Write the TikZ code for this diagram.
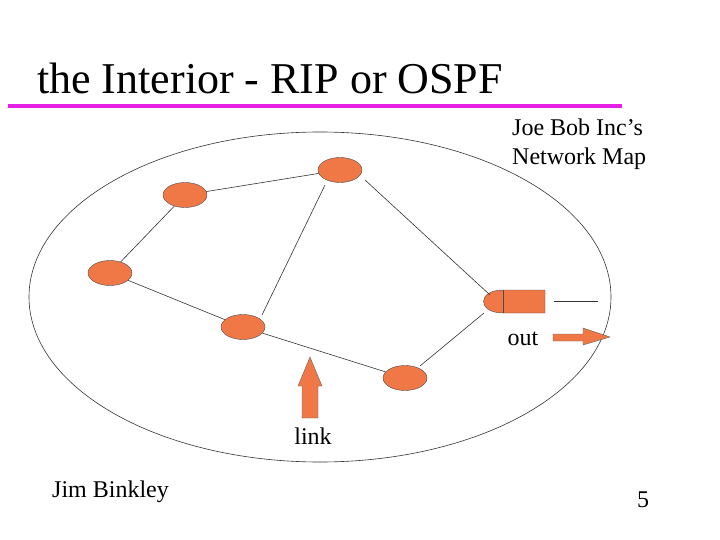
\documentclass[tikz,border=0pt]{standalone}
\usepackage{fontspec}
\setmainfont{Liberation Serif}
\usetikzlibrary{shapes.geometric}
\begin{document}
\begin{tikzpicture}[x=1pt,y=-1pt,
  rt/.style={ellipse,draw=black!70,fill=rtc,minimum width=44pt,minimum height=25pt,inner sep=0pt},
  ln/.style={draw=black!80,line width=0.6pt},
  lbl/.style={font=\fontsize{24}{29}\selectfont}]
\definecolor{rtc}{RGB}{240,120,70}
\useasboundingbox (0,0) rectangle (720,540);
\node[anchor=base west,font=\fontsize{44}{46}\selectfont,inner sep=0] (title) at (37,94) {the Interior - RIP or OSPF};
\draw[line width=4pt,draw={rgb,255:red,230;green,30;blue,230}] (8,106) -- (622,106);
\node[lbl,align=left,anchor=north west,inner sep=0] (map) at (512,119) {Joe Bob Inc's\\Network Map};
\node[draw=black!80,line width=0.6pt,ellipse,minimum width=582pt,minimum height=330pt] (area) at (320,297) {};
\node[rt] (n1) at (185,195) {};
\node[rt] (n2) at (340,170) {};
\node[rt] (n3) at (110,273) {};
\node[rt] (n4) at (243,327) {};
\node[rt] (n5) at (405,378) {};
\filldraw[fill=rtc,draw=black!70] (503,290) .. controls (477,290) and (477,313) .. (503,313) -- (545,313) -- (545,290) -- cycle;
\draw[black!70] (503,290) -- (503,313);
\node[inner sep=0,minimum width=30pt,minimum height=24pt] (r) at (497,302) {};
\draw[ln] (n1) -- (n2);
\draw[ln] (n1) -- (n3);
\draw[ln] (n3) -- (n4);
\draw[ln] (n4) -- (n5);
\draw[ln] (325,185) -- (262,315);
\draw[ln] (365,180) -- (490,295);
\draw[ln] (420,366) -- (484,313);
\coordinate (a) at (554,301); \coordinate (b) at (598,301);
\draw[ln] (a) -- (b);
\node[lbl,anchor=base] (out) at (523,345) {out};
\filldraw[fill=rtc,draw=black!60] (553,334) -- (583,334) -- (583,328) -- (610,337) -- (583,345) -- (583,341) -- (553,341) -- cycle;
\filldraw[fill=rtc,draw=black!60] (302,418) -- (302,386) -- (298,386) -- (310,357) -- (322,386) -- (318,386) -- (318,418) -- cycle;
\node[lbl,anchor=base] (link) at (313,444) {link};
\node[lbl,anchor=base west,inner sep=0] (jim) at (52,497) {Jim Binkley};
\node[lbl,anchor=base,inner sep=0] (pg) at (643,507) {5};
\end{tikzpicture}
\end{document}
